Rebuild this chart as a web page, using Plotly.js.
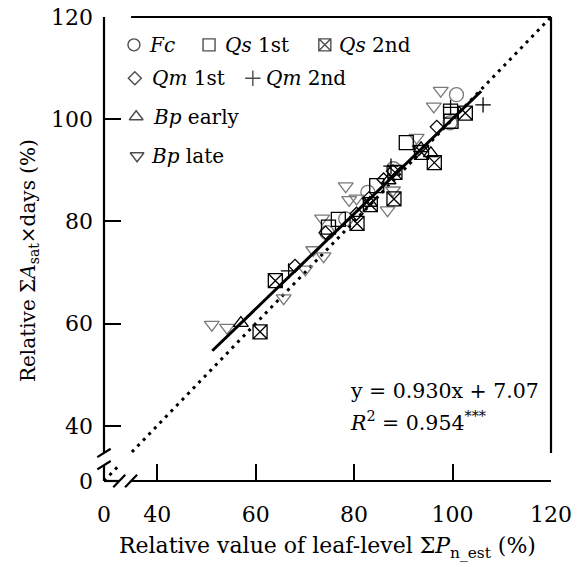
<!DOCTYPE html>
<html><head><meta charset="utf-8">
<script src="https://cdn.plot.ly/plotly-3.0.1.min.js"></script>
<style>html,body{margin:0;padding:0;background:#fff}</style>
</head><body><div id="chart" style="width:576px;height:564px"></div>
<script>
// ---------------- data ----------------
const fcX  = [100.8, 99.5, 88.0, 82.8, 78.3, 74.5];
const fcY  = [104.8, 99.3, 90.3, 85.7, 80.5, 77.8];
const qs1X = [90.6, 99.6, 99.7, 84.6, 76.8, 74.8];
const qs1Y = [95.4, 101.6, 99.6, 87.0, 80.4, 78.9];
const qs2X = [60.9, 64.0, 80.6, 83.3, 88.1, 88.3, 93.7, 96.3, 102.6];
const qs2Y = [58.4, 68.4, 79.6, 83.3, 84.4, 89.6, 93.5, 91.5, 101.2];
const qm1X = [68.0, 74.2, 80.5, 83.0, 86.0, 87.9, 96.8];
const qm1Y = [71.3, 77.8, 81.5, 84.5, 88.2, 89.8, 98.5];
const qm2X = [66.7, 87.5, 99.6, 106.2];
const qm2Y = [70.3, 90.8, 102.3, 102.8];
const bpeX = [57.0, 83.2, 87.0, 93.6, 95.6];
const bpeY = [60.1, 83.6, 88.0, 94.3, 93.3];
const bplX = [51.1, 54.2, 65.7, 70.1, 71.7, 73.8, 73.5, 78.3, 79.0, 80.5, 86.8, 87.9, 92.7, 93.3, 96.2, 97.6];
const bplY = [59.8, 59.2, 65.0, 70.6, 74.4, 73.2, 80.6, 86.9, 84.2, 84.5, 82.2, 86.1, 96.4, 94.2, 102.5, 105.6];

const fitSlope = 0.930, fitIntercept = 7.07;
const fitX = [51.2, 105.8];
const oneToOneX = [0, 12, null, 21, 120];

const tickVals = [0, 40, 60, 80, 100, 120];
const tickText = ['0', '40', '60', '80', '100', '120'];

const legendNames = ['<i>Fc</i>', '<i>Qs</i> 1st', '<i>Qs</i> 2nd', '<i>Qm</i> 1st', '<i>Qm</i> 2nd', '<i>Bp</i> early', '<i>Bp</i> late'];

// ---------------- broken-axis transform ----------------
const BRK = 40, GAP = 10.8, DMIN = BRK - GAP, DMAX = 120;
function disp(v){ if (v === null) return null; return v >= BRK ? v : DMIN + v * GAP / BRK; }
const D = a => a.map(disp);

const FONT = '"DejaVu Serif", "Liberation Serif", serif';
const FS = 22;
const GRAY = '#7a7a7a';
const BLACK = '#000';

function pts(x, y, symbol, size, color){
  return {x: D(x), y: D(y), type: 'scatter', mode: 'markers', showlegend: false, hoverinfo: 'skip',
    marker: {symbol: symbol, size: size, color: color, line: {color: color, width: 1.3}}};
}

const fitY = fitX.map(v => fitSlope * v + fitIntercept);

const traces = [
  {x: D(oneToOneX), y: D(oneToOneX), type: 'scatter', mode: 'lines', connectgaps: false, showlegend: false,
   line: {color: BLACK, width: 3, dash: '3px,5px'}, hoverinfo: 'skip'},
  pts(bplX, bplY, 'triangle-down-open', 13, GRAY),
  pts(fcX, fcY, 'circle-open', 14, GRAY),
  pts(qs1X, qs1Y, 'square-open', 14, BLACK),
  pts(qs2X, qs2Y, 'square-x-open', 14, BLACK),
  pts(qm1X, qm1Y, 'diamond-open', 10, BLACK),
  pts(qm2X, qm2Y, 'cross-thin-open', 11, BLACK),
  pts(bpeX, bpeY, 'triangle-up-open', 13, BLACK),
  {x: D(fitX), y: D(fitY), type: 'scatter', mode: 'lines', showlegend: false,
   line: {color: BLACK, width: 3}, hoverinfo: 'skip'}
];

// ---------------- legend keys (overlay axis in 0..1 plot fractions) ----------------
const keyLayout = [
  {sx: 0.067, tx: 0.097, y: 0.940, sym: 'circle-open', size: 12},
  {sx: 0.235, tx: 0.266, y: 0.940, sym: 'square-open', size: 12},
  {sx: 0.494, tx: 0.522, y: 0.940, sym: 'square-x-open', size: 12},
  {sx: 0.069, tx: 0.102, y: 0.868, sym: 'diamond-open', size: 10},
  {sx: 0.333, tx: 0.358, y: 0.868, sym: 'cross-thin-open', size: 11},
  {sx: 0.072, tx: 0.106, y: 0.785, sym: 'triangle-up-open', size: 12},
  {sx: 0.074, tx: 0.100, y: 0.701, sym: 'triangle-down-open', size: 12}
];
traces.push({
  x: keyLayout.map(k => k.sx), y: keyLayout.map(k => k.y), xaxis: 'x2', yaxis: 'y2',
  type: 'scatter', mode: 'markers', showlegend: false, hoverinfo: 'skip',
  marker: {symbol: keyLayout.map(k => k.sym), size: keyLayout.map(k => k.size), color: BLACK,
           line: {color: BLACK, width: 1.4}}
});

const annotations = keyLayout.map((k, i) => ({
  xref: 'paper', yref: 'paper', x: k.tx, y: k.y, xanchor: 'left', yanchor: 'middle',
  text: legendNames[i], showarrow: false, font: {family: FONT, size: 20, color: BLACK}
}));
annotations.push(
  {xref: 'paper', yref: 'paper', x: 0.546, y: 0.194, xanchor: 'left', yanchor: 'middle', showarrow: false,
   text: 'y = 0.930x + 7.07', font: {family: FONT, size: 20.5, color: BLACK}},
  {xref: 'paper', yref: 'paper', x: 0.546, y: 0.129, xanchor: 'left', yanchor: 'middle', showarrow: false,
   text: '<i>R</i><sup>2</sup> = 0.954<sup>***</sup>', font: {family: FONT, size: 20.5, color: BLACK}},
  {xref: 'paper', yref: 'paper', x: 0.501, y: -0.144, xanchor: 'center', yanchor: 'middle', showarrow: false,
   text: 'Relative value of leaf-level Σ<i>P</i><sub>n_est</sub> (%)', font: {family: FONT, size: FS, color: BLACK}},
  {xref: 'paper', yref: 'paper', x: -0.168, y: 0.476, xanchor: 'center', yanchor: 'middle', showarrow: false, textangle: -90,
   text: 'Relative Σ<i>A</i><sub>sat</sub>×days (%)', font: {family: FONT, size: 20, color: BLACK}}
);

// ---------------- frame with axis breaks ----------------
const P = d => (d - DMIN) / (DMAX - DMIN);
const BA = 32.3, BB = 34.7;           // break positions (display units)
const W = 447, H = 464;               // plot size in px
const ln = (x0, y0, x1, y1) => ({type: 'line', xref: 'paper', yref: 'paper', x0, y0, x1, y1,
  line: {color: BLACK, width: 2.2}});
const shapes = [
  ln(0, 0, 0, P(BA)), ln(0, P(BB), 0, 1),          // left axis
  ln(0, 0, P(BA), 0), ln(P(BB), 0, 1, 0),          // bottom axis
  ln(P(BB), 1, 1, 1),                              // top frame
  ln(1, P(BB), 1, 1),                              // right frame
  ln(-6.7 / W, P(BA) - 4.2 / H, 6.7 / W, P(BA) + 4.2 / H),
  ln(-6.7 / W, P(BB) - 4.2 / H, 6.7 / W, P(BB) + 4.2 / H),
  ln(P(BA) - 6 / W, -6.2 / H, P(BA) + 6 / W, 6.2 / H),
  ln(P(BB) - 6 / W, -6.2 / H, P(BB) + 6 / W, 6.2 / H)
];

const axisCommon = {
  range: [DMIN, DMAX], tickvals: D(tickVals), ticktext: tickText,
  ticks: 'inside', ticklen: 17, tickwidth: 2, tickcolor: BLACK,
  showline: false, showgrid: false, zeroline: false,
  tickfont: {family: FONT, size: FS, color: BLACK}
};

const layout = {
  width: 576, height: 564,
  margin: {l: 104, r: 25, t: 17, b: 83},
  paper_bgcolor: '#fff', plot_bgcolor: '#fff',
  font: {family: FONT, size: FS, color: BLACK},
  showlegend: false,
  xaxis: Object.assign({}, axisCommon, {ticklabelstandoff: 18}),
  yaxis: Object.assign({}, axisCommon, {ticklabelstandoff: 10}),
  xaxis2: {overlaying: 'x', anchor: 'y2', range: [0, 1], visible: false},
  yaxis2: {overlaying: 'y', anchor: 'x2', range: [0, 1], visible: false},
  annotations: annotations,
  shapes: shapes
};

Plotly.newPlot('chart', traces, layout, {staticPlot: true, displayModeBar: false});
</script>
</body></html>
